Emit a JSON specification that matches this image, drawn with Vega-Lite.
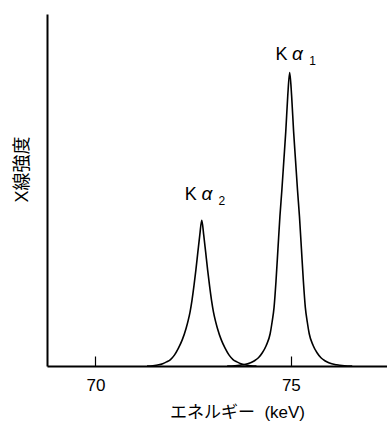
{
  "$schema": "https://vega.github.io/schema/vega-lite/v6.json",
  "width": 340,
  "height": 352,
  "autosize": "none",
  "padding": {"left": 47, "top": 14, "right": 0, "bottom": 62},
  "background": "white",
  "config": {
    "view": {"stroke": null},
    "font": "'Liberation Sans', 'Noto Sans CJK JP', sans-serif"
  },
  "datasets": {
    "spectrum": [
      {"peak": "Ka1", "energy": 73.37, "intensity": 0},
      {"peak": "Ka1", "energy": 73.57, "intensity": 0.001},
      {"peak": "Ka1", "energy": 73.77, "intensity": 0.004},
      {"peak": "Ka1", "energy": 73.97, "intensity": 0.011},
      {"peak": "Ka1", "energy": 74.07, "intensity": 0.018},
      {"peak": "Ka1", "energy": 74.17, "intensity": 0.028},
      {"peak": "Ka1", "energy": 74.27, "intensity": 0.045},
      {"peak": "Ka1", "energy": 74.37, "intensity": 0.07},
      {"peak": "Ka1", "energy": 74.47, "intensity": 0.11},
      {"peak": "Ka1", "energy": 74.52, "intensity": 0.15},
      {"peak": "Ka1", "energy": 74.57, "intensity": 0.2},
      {"peak": "Ka1", "energy": 74.62, "intensity": 0.29},
      {"peak": "Ka1", "energy": 74.67, "intensity": 0.4},
      {"peak": "Ka1", "energy": 74.72, "intensity": 0.51},
      {"peak": "Ka1", "energy": 74.77, "intensity": 0.6},
      {"peak": "Ka1", "energy": 74.82, "intensity": 0.7},
      {"peak": "Ka1", "energy": 74.87, "intensity": 0.8},
      {"peak": "Ka1", "energy": 74.92, "intensity": 0.92},
      {"peak": "Ka1", "energy": 74.97, "intensity": 1.0},
      {"peak": "Ka1", "energy": 75.02, "intensity": 0.92},
      {"peak": "Ka1", "energy": 75.07, "intensity": 0.8},
      {"peak": "Ka1", "energy": 75.12, "intensity": 0.7},
      {"peak": "Ka1", "energy": 75.17, "intensity": 0.6},
      {"peak": "Ka1", "energy": 75.22, "intensity": 0.51},
      {"peak": "Ka1", "energy": 75.27, "intensity": 0.4},
      {"peak": "Ka1", "energy": 75.32, "intensity": 0.29},
      {"peak": "Ka1", "energy": 75.37, "intensity": 0.2},
      {"peak": "Ka1", "energy": 75.42, "intensity": 0.15},
      {"peak": "Ka1", "energy": 75.47, "intensity": 0.11},
      {"peak": "Ka1", "energy": 75.57, "intensity": 0.07},
      {"peak": "Ka1", "energy": 75.67, "intensity": 0.045},
      {"peak": "Ka1", "energy": 75.77, "intensity": 0.028},
      {"peak": "Ka1", "energy": 75.87, "intensity": 0.018},
      {"peak": "Ka1", "energy": 75.97, "intensity": 0.011},
      {"peak": "Ka1", "energy": 76.17, "intensity": 0.004},
      {"peak": "Ka1", "energy": 76.37, "intensity": 0.001},
      {"peak": "Ka1", "energy": 76.57, "intensity": 0},
      {"peak": "Ka2", "energy": 71.32, "intensity": 0},
      {"peak": "Ka2", "energy": 71.47, "intensity": 0.001},
      {"peak": "Ka2", "energy": 71.62, "intensity": 0.004},
      {"peak": "Ka2", "energy": 71.72, "intensity": 0.008},
      {"peak": "Ka2", "energy": 71.82, "intensity": 0.014},
      {"peak": "Ka2", "energy": 71.92, "intensity": 0.022},
      {"peak": "Ka2", "energy": 72.02, "intensity": 0.037},
      {"peak": "Ka2", "energy": 72.12, "intensity": 0.06},
      {"peak": "Ka2", "energy": 72.22, "intensity": 0.089},
      {"peak": "Ka2", "energy": 72.32, "intensity": 0.129},
      {"peak": "Ka2", "energy": 72.37, "intensity": 0.154},
      {"peak": "Ka2", "energy": 72.42, "intensity": 0.184},
      {"peak": "Ka2", "energy": 72.47, "intensity": 0.224},
      {"peak": "Ka2", "energy": 72.52, "intensity": 0.273},
      {"peak": "Ka2", "energy": 72.57, "intensity": 0.328},
      {"peak": "Ka2", "energy": 72.62, "intensity": 0.388},
      {"peak": "Ka2", "energy": 72.67, "intensity": 0.447},
      {"peak": "Ka2", "energy": 72.72, "intensity": 0.497},
      {"peak": "Ka2", "energy": 72.77, "intensity": 0.447},
      {"peak": "Ka2", "energy": 72.82, "intensity": 0.388},
      {"peak": "Ka2", "energy": 72.87, "intensity": 0.328},
      {"peak": "Ka2", "energy": 72.92, "intensity": 0.273},
      {"peak": "Ka2", "energy": 72.97, "intensity": 0.224},
      {"peak": "Ka2", "energy": 73.02, "intensity": 0.184},
      {"peak": "Ka2", "energy": 73.07, "intensity": 0.154},
      {"peak": "Ka2", "energy": 73.12, "intensity": 0.129},
      {"peak": "Ka2", "energy": 73.22, "intensity": 0.089},
      {"peak": "Ka2", "energy": 73.32, "intensity": 0.06},
      {"peak": "Ka2", "energy": 73.42, "intensity": 0.037},
      {"peak": "Ka2", "energy": 73.52, "intensity": 0.022},
      {"peak": "Ka2", "energy": 73.62, "intensity": 0.014},
      {"peak": "Ka2", "energy": 73.72, "intensity": 0.008},
      {"peak": "Ka2", "energy": 73.82, "intensity": 0.004},
      {"peak": "Ka2", "energy": 73.97, "intensity": 0.001},
      {"peak": "Ka2", "energy": 74.12, "intensity": 0}
    ],
    "labels": [
      {"k": "K", "alpha": "α", "sub": "1", "energy": 74.99, "intensity": 1.043},
      {"k": "K", "alpha": "α", "sub": "2", "energy": 72.67, "intensity": 0.566}
    ]
  },
  "encoding": {
    "x": {
      "field": "energy",
      "type": "quantitative",
      "scale": {"domain": [68.76, 77.46], "nice": false, "zero": false},
      "axis": {
        "title": "エネルギー\u00a0\u00a0(keV)",
        "values": [70, 75],
        "grid": false,
        "domainColor": "black",
        "domainWidth": 2,
        "tickColor": "black",
        "tickWidth": 1.2,
        "tickSize": -10,
        "labelPadding": 21,
        "labelFontSize": 17,
        "labelColor": "black",
        "titleFontSize": 17,
        "titleFontWeight": "normal",
        "titleColor": "black",
        "titleX": 190,
        "titleY": 46,
        "titleBaseline": "middle",
        "titleAnchor": null
      }
    },
    "y": {
      "field": "intensity",
      "type": "quantitative",
      "scale": {"domain": [0, 1.2], "nice": false},
      "axis": {
        "title": "X線強度",
        "grid": false,
        "ticks": false,
        "labels": false,
        "domainColor": "black",
        "domainWidth": 2,
        "titleFontSize": 18,
        "titleFontWeight": "normal",
        "titleColor": "black",
        "titleAngle": -90,
        "titleX": -25,
        "titleY": 155,
        "titleBaseline": "middle",
        "titleAlign": "center"
      }
    }
  },
  "layer": [
    {
      "data": {"name": "spectrum"},
      "mark": {"type": "line", "color": "black", "strokeWidth": 1.6, "interpolate": "monotone"},
      "encoding": {"detail": {"field": "peak"}}
    },
    {
      "data": {"name": "labels"},
      "mark": {"type": "text", "fontSize": 18, "align": "center", "baseline": "alphabetic", "dx": -9, "color": "black"},
      "encoding": {"text": {"field": "k"}}
    },
    {
      "data": {"name": "labels"},
      "mark": {"type": "text", "fontSize": 19, "fontStyle": "italic", "align": "center", "baseline": "alphabetic", "dx": 7, "color": "black"},
      "encoding": {"text": {"field": "alpha"}}
    },
    {
      "data": {"name": "labels"},
      "mark": {"type": "text", "fontSize": 12, "align": "center", "baseline": "alphabetic", "dx": 22, "dy": 5, "color": "black"},
      "encoding": {"text": {"field": "sub"}}
    }
  ]
}
